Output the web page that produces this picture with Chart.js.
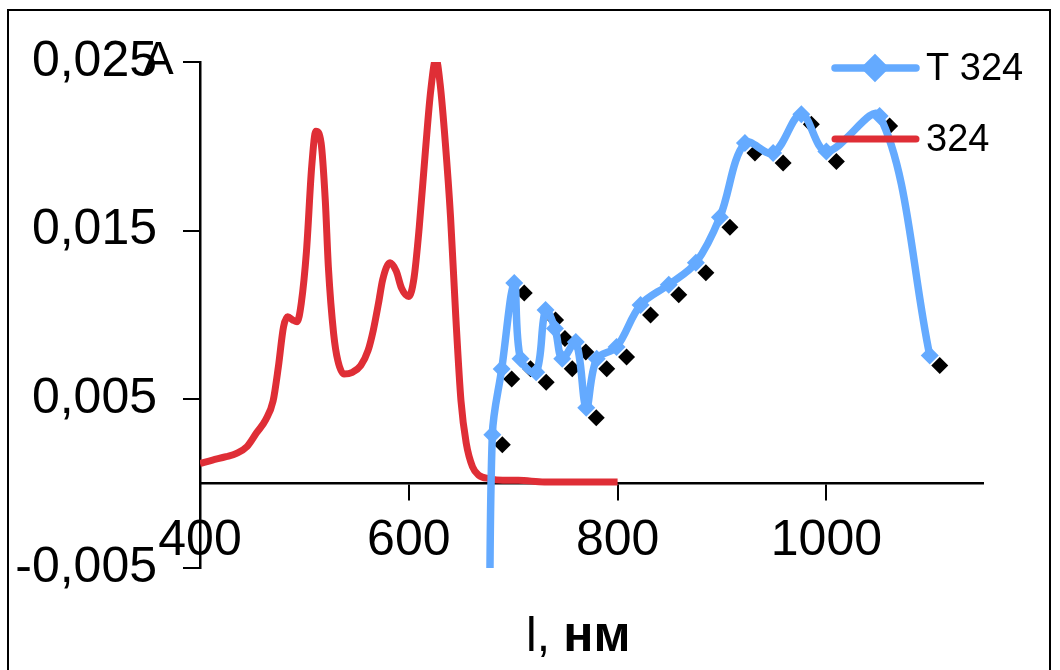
<!DOCTYPE html>
<html>
<head>
<meta charset="utf-8">
<script src="https://cdn.jsdelivr.net/npm/chart.js@4.4.1/dist/chart.umd.min.js"></script>
<style>
  html, body { margin: 0; padding: 0; background: #fff; }
  #wrap { width: 1060px; height: 670px; }
</style>
</head>
<body>
<div id="wrap"><canvas id="chart" width="1060" height="670"></canvas></div>
<script>
// T 324 series
const tWave = [677, 680, 689, 701, 707, 722, 731, 740, 747, 760, 770, 780, 799, 822, 849, 875, 898, 922, 949, 976, 1000, 1051, 1099];
const tAbs = [-0.015, 0.0029, 0.0068, 0.0119, 0.0074, 0.0066, 0.0103, 0.0092, 0.0074, 0.0084, 0.0045, 0.0074, 0.0081,
  0.0106, 0.0118, 0.0131, 0.0158, 0.0202, 0.0196, 0.0219, 0.0197, 0.0218, 0.0076];

// 324 series
const redWave = [400, 412, 425, 435, 445, 454, 463, 470, 475, 480, 484, 489, 493, 497, 502, 507, 511, 516, 520, 523,
  528, 532, 538, 546, 554, 561, 566, 571, 575, 582, 588, 593, 600, 605, 610, 616, 621, 626, 630, 635, 640, 645, 650,
  655, 661, 667, 677, 690, 705, 730, 753, 775, 800];
const redAbs = [0.0012, 0.0014, 0.0016, 0.0018, 0.0022, 0.0030, 0.0038, 0.0049, 0.0069, 0.0093, 0.0099, 0.0097, 0.0096,
  0.0107, 0.0138, 0.0188, 0.0209, 0.0202, 0.0168, 0.0128, 0.0089, 0.0073, 0.0065, 0.0066, 0.0070, 0.0079, 0.0091,
  0.0107, 0.0121, 0.0131, 0.0126, 0.0116, 0.0111, 0.0122, 0.0152, 0.0198, 0.0233, 0.0252, 0.0237, 0.0202, 0.0158,
  0.0099, 0.0049, 0.0024, 0.0010, 0.0005, 0.0003, 0.0002, 0.0002, 0.0001, 0.0001, 0.0001, 0.0001];

const seriesLabels = ['T 324', '324'];
const xTicks = [400, 600, 800, 1000];
const yTicks = [-0.005, 0.005, 0.015, 0.025];
const yTickLabels = ['-0,005', '0,005', '0,015', '0,025'];

const BLUE = '#64aaff';
const RED = '#df2e36';
const FONT = "'Liberation Sans', Arial, sans-serif";

const toPoints = (xs, ys) => xs.map((x, i) => ({ x: x, y: ys[i] }));

// legend, axis titles, frame and the marker shadow
const extras = {
  id: 'extras',
  beforeDatasetDraw(chart, args) {
    if (args.index === 2) {
      chart.ctx.save();
      chart.ctx.translate(10, 10);
    }
  },
  afterDatasetDraw(chart, args) {
    if (args.index === 2) chart.ctx.restore();
  },
  afterDraw(chart) {
    const ctx = chart.ctx;
    ctx.save();

    // legend
    const rows = [68, 139];
    chart.data.datasets.slice(0, 2).forEach((ds, i) => {
      const y = rows[i];
      ctx.strokeStyle = ds.borderColor;
      ctx.lineWidth = ds.borderWidth;
      ctx.lineCap = 'round';
      ctx.beginPath();
      ctx.moveTo(835, y);
      ctx.lineTo(916, y);
      ctx.stroke();
      if (ds.pointRadius > 0) {
        Chart.helpers.drawPoint(ctx, { pointStyle: 'rectRot', radius: 9, borderWidth: 1 }, 875, y);
        ctx.fillStyle = ds.pointBackgroundColor;
        ctx.fill();
      }
      ctx.fillStyle = '#000';
      ctx.font = '38px ' + FONT;
      ctx.textAlign = 'left';
      ctx.textBaseline = 'middle';
      ctx.fillText(ds.label, 926, y + 2);
    });

    // axis titles
    ctx.fillStyle = '#000';
    ctx.textBaseline = 'alphabetic';
    ctx.textAlign = 'left';
    ctx.font = '46px ' + FONT;
    ctx.fillText('A', 143, 74);
    ctx.font = '48px ' + FONT;
    ctx.fillText('l, ', 526, 651);
    const w = ctx.measureText('l, ').width;
    ctx.font = 'bold 50px ' + FONT;
    ctx.fillText('нм', 526 + w, 651);

    // frame
    ctx.strokeStyle = '#000';
    ctx.lineWidth = 2;
    ctx.strokeRect(8, 10, 1042, 720);
    ctx.restore();
  }
};

new Chart(document.getElementById('chart'), {
  type: 'line',
  data: {
    datasets: [
      {
        label: seriesLabels[0],
        data: toPoints(tWave, tAbs),
        borderColor: BLUE,
        borderWidth: 7.5,
        tension: 0.35,
        pointStyle: 'rectRot',
        pointRadius: 9,
        pointBorderWidth: 0,
        pointBackgroundColor: BLUE,
        pointBorderColor: BLUE
      },
      {
        label: seriesLabels[1],
        data: toPoints(redWave, redAbs),
        borderColor: RED,
        borderWidth: 7,
        cubicInterpolationMode: 'monotone',
        pointRadius: 0
      },
      {
        label: 'shadow',
        data: toPoints(tWave, tAbs),
        showLine: false,
        pointStyle: 'rectRot',
        pointRadius: 8.5,
        pointBorderWidth: 0,
        pointBackgroundColor: '#000',
        pointBorderColor: '#000'
      }
    ]
  },
  options: {
    responsive: false,
    animation: false,
    devicePixelRatio: 1,
    layout: { padding: { left: 0, top: 62, right: 77, bottom: 102 } },
    plugins: { legend: { display: false }, tooltip: { enabled: false } },
    scales: {
      x: {
        type: 'linear',
        min: 400,
        max: 1150,
        position: { y: 0 },
        afterBuildTicks: (s) => { s.ticks = xTicks.map(v => ({ value: v })); },
        ticks: {
          color: '#000',
          font: { family: FONT, size: 50 },
          padding: 12,
          maxRotation: 0,
          autoSkip: false,
          callback: (v) => String(v)
        },
        grid: { drawOnChartArea: false, color: '#000', lineWidth: 2, tickLength: 16 },
        border: { color: '#000', width: 2.5 }
      },
      y: {
        type: 'linear',
        min: -0.005,
        max: 0.025,
        afterBuildTicks: (s) => { s.ticks = yTicks.map(v => ({ value: v })); },
        afterFit: (s) => { s.width = 200; },
        ticks: {
          color: '#000',
          font: { family: FONT, size: 50 },
          padding: 26,
          autoSkip: false,
          callback: (v, i) => yTickLabels[i]
        },
        grid: { drawOnChartArea: false, color: '#000', lineWidth: 2, tickLength: 17 },
        border: { color: '#000', width: 2.5 }
      }
    }
  },
  plugins: [extras]
});
</script>
</body>
</html>
